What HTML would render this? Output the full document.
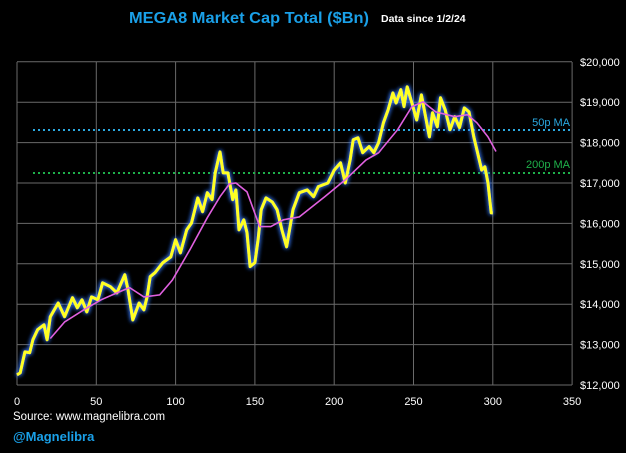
<!DOCTYPE html>
<html><head><meta charset="utf-8"><style>
body{margin:0;background:#000;width:626px;height:448px;overflow:hidden;font-family:"Liberation Sans",sans-serif}
</style></head><body>
<svg width="626" height="448" xmlns="http://www.w3.org/2000/svg">
<defs><filter id="glow" x="-10%" y="-10%" width="120%" height="120%">
<feGaussianBlur in="SourceAlpha" stdDeviation="2.5" result="b"/>
<feFlood flood-color="#3a7bff" flood-opacity="0.9"/><feComposite in2="b" operator="in" result="g"/>
<feMerge><feMergeNode in="g"/><feMergeNode in="g"/><feMergeNode in="SourceGraphic"/></feMerge></filter></defs>
<rect width="626" height="448" fill="#000"/>
<text x="249" y="23" text-anchor="middle" fill="#1aa0e8" font-weight="bold" font-size="16" textLength="240" lengthAdjust="spacingAndGlyphs">MEGA8 Market Cap Total ($Bn)</text>
<text x="381" y="22" text-anchor="start" fill="#fff" font-weight="bold" font-size="10.5">Data since 1/2/24</text>
<g id="grid"></g><g id="axes"></g>
<line x1="33" x2="572" y1="130" y2="130" stroke="#2aa8e0" stroke-width="2" stroke-dasharray="2,3"/>
<line x1="33" x2="572" y1="173" y2="173" stroke="#1fb04a" stroke-width="2" stroke-dasharray="2,3"/>
<text x="570" y="126" text-anchor="end" fill="#2aa8e0" font-size="11">50p MA</text>
<text x="570" y="168" text-anchor="end" fill="#1fb04a" font-size="11">200p MA</text>
<path id="price" fill="none" stroke="#ffff22" stroke-width="3" stroke-linejoin="round" filter="url(#glow)"/>
<path id="ma" fill="none" stroke="#e060e0" stroke-width="1.6"/>
<text x="13" y="420" fill="#fff" font-size="11.5">Source: www.magnelibra.com</text>
<text x="13" y="441" fill="#1aa0e8" font-size="13" font-weight="bold">@Magnelibra</text>
</svg>
<script>
const xTicks=[0,50,100,150,200,250,300,350];
const yTicks=[12000,13000,14000,15000,16000,17000,18000,19000,20000];
const priceX=[0,2,5,8,10,13,17,19,21,26,30,35,38,41,44,47,51,54,59,63,68,70,73,77,80,82,84,87,92,97,100,103,107,110,114,117,120,123,125,128,130,133,136,138,140,143,145,147,150,152,154,157,161,164,167,170,174,178,183,187,190,196,200,204,207,210,212,215,218,222,225,228,231,234,237,239,242,244,246,249,252,255,258,260,262,265,267,270,273,276,279,282,285,288,290,293,295,297,299,300];
const priceY=[12250,12300,12820,12800,13120,13370,13490,13120,13690,14030,13690,14160,13910,14110,13810,14180,14110,14530,14430,14280,14730,14360,13610,14030,13860,14180,14680,14780,15030,15170,15600,15270,15840,16010,16630,16290,16760,16590,17250,17770,17250,17250,16590,16830,15840,16090,15770,14930,15030,15600,16340,16630,16530,16340,15840,15420,16340,16760,16830,16660,16910,17000,17320,17500,17000,17570,18070,18120,17750,17900,17750,18000,18490,18810,19230,18980,19310,18890,19380,18980,18560,19180,18560,18140,18740,18390,19110,18810,18320,18640,18370,18860,18760,18140,17820,17320,17400,17000,16260,16260];
const maX=[21,30,42,53,63,71,80,90,98,109,120,128,134,138,145,153,160,168,178,194,207,220,228,240,249,256,264,276,284,290,297,302];
const maY=[13150,13560,13860,14110,14280,14410,14180,14230,14600,15350,16140,16660,16980,17000,16780,15920,15920,16090,16160,16660,17080,17570,17750,18320,18890,19010,18760,18640,18690,18490,18140,17780];
const X0=17,XS=79.3/50,Y0=385,YS=40.4/1000;
const sx=v=>X0+v*XS, sy=v=>Y0-(v-12000)*YS;
const NS="http://www.w3.org/2000/svg";
const grid=document.getElementById('grid'), axes=document.getElementById('axes');
function mk(t,a,p){const e=document.createElementNS(NS,t);for(const k in a)e.setAttribute(k,a[k]);p.appendChild(e);return e;}
xTicks.forEach(t=>{
 const l=mk('line',{x1:sx(t),x2:sx(t),y1:62,y2:Y0,stroke:'#6a6a6a','stroke-width':1},grid);
 
 
 const tx=mk('text',{x:sx(t),y:405,'text-anchor':'middle',fill:'#fff','font-size':11},axes);
 tx.textContent=t;
 
 
});
yTicks.forEach(t=>{
 const l=mk('line',{x1:X0,x2:572,y1:sy(t),y2:sy(t),stroke:'#6a6a6a','stroke-width':1},grid);
 
 
 const tx=mk('text',{x:580,y:sy(t)+4,fill:'#fff','font-size':11},axes);
 tx.textContent='$'+t.toLocaleString('en-US');
 
 
});
const path=(xs,ys)=>xs.map((x,i)=>(i?'L':'M')+sx(x).toFixed(1)+','+sy(ys[i]).toFixed(1)).join('');
document.getElementById('price').setAttribute('d',path(priceX,priceY));
document.getElementById('ma').setAttribute('d',path(maX,maY));
</script>
</body></html>
